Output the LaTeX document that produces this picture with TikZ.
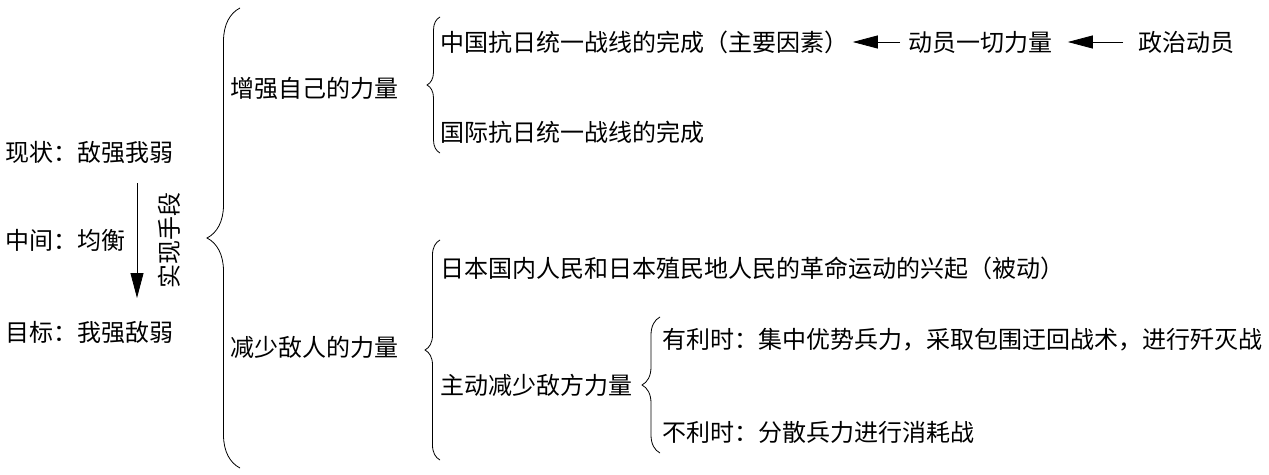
\documentclass[tikz,border=0pt]{standalone}
\usepackage{fontspec}
\setmainfont{Noto Sans CJK SC}
\usetikzlibrary{arrows.meta,decorations.pathreplacing}

\begin{document}
\begin{tikzpicture}[x=1pt,y=-1pt,line width=0.8pt,
  txt/.style={anchor=west,inner sep=0pt,font=\fontsize{24}{28}\selectfont},
  bracel/.style={decorate,decoration={brace,amplitude=#1}},
  arr/.style={-{Triangle[length=25pt,width=13pt]}}]
\useasboundingbox (0,0) rectangle (1269,474);
% situation, balance, goal
\node[txt] (now) at (5,152) {现状：敌强我弱};
\node[txt] (mid) at (5,240) {中间：均衡};
\node[txt] (goal) at (5,332) {目标：我强敌弱};
\coordinate (mtop) at (137,183);
\coordinate (mbot) at (137,298);
\draw[arr] (mtop) -- (mbot);
\node[inner sep=0pt,rotate=90,font=\fontsize{24}{28}\selectfont] (means) at (169,240) {实现手段};
% main brace
\draw[bracel=33] (240,468) -- (240,8);

% upper branch
\node[txt] (own) at (230,88) {增强自己的力量};
\draw[bracel=13] (440,153) -- (440,17);
\node[txt] (cn) at (440,42) {中国抗日统一战线的完成（主要因素）};
\node[txt] (mob) at (908,42) {动员一切力量};
\node[txt] (pol) at (1138,42) {政治动员};
\node[txt] (intl) at (440,132) {国际抗日统一战线的完成};
\draw[arr] ([xshift=-8pt]mob.west) -- ([xshift=4pt]cn.east);
\draw[arr] ([xshift=-15pt]pol.west) -- ([xshift=15pt]mob.east);

% lower branch
\node[txt] (enemy) at (230,347) {减少敌人的力量};
\draw[bracel=15] (440,460) -- (440,240);
\node[txt] (jp) at (440,268) {日本国内人民和日本殖民地人民的革命运动的兴起（被动）};
\node[txt] (act) at (440,385) {主动减少敌方力量};
\draw[bracel=18] (660,453) -- (660,317);
\node[txt] (fav) at (662,340) {有利时：集中优势兵力，采取包围迂回战术，进行歼灭战};
\node[txt] (unfav) at (662,432) {不利时：分散兵力进行消耗战};
\end{tikzpicture}
\end{document}
